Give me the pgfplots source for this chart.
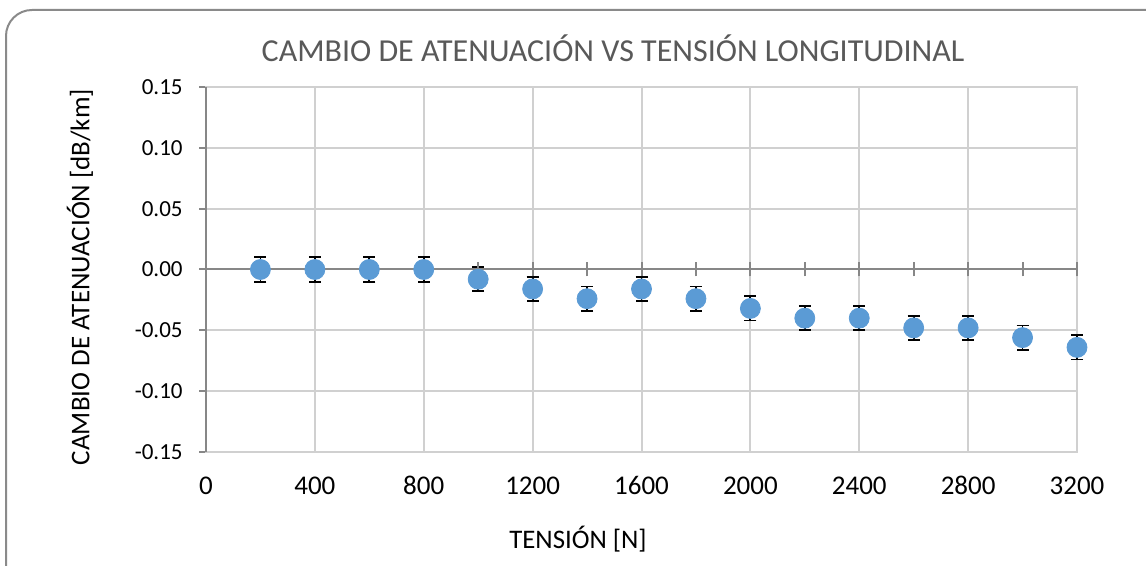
\documentclass[border=0pt]{standalone}
\usepackage{pgfplots}
\pgfplotsset{compat=1.18}
\usepackage{fontspec}
\setmainfont{Carlito}
\definecolor{ptblue}{HTML}{5B9BD5}
\definecolor{gridc}{HTML}{D0D0D0}
\definecolor{axc}{HTML}{878787}
\definecolor{titc}{HTML}{595959}
\definecolor{framec}{HTML}{8A8A8A}

\pgfplotstableread{
x y e
200 0 0.01
400 0 0.01
600 0 0.01
800 0 0.01
1000 -0.008 0.01
1200 -0.016 0.01
1400 -0.024 0.01
1600 -0.016 0.01
1800 -0.024 0.01
2000 -0.032 0.01
2200 -0.040 0.01
2400 -0.040 0.01
2600 -0.048 0.01
2800 -0.048 0.01
3000 -0.056 0.01
3200 -0.064 0.01
}\datatable

\begin{document}
\begin{tikzpicture}
\path[use as bounding box] (0,0) rectangle (573pt,283pt);
\begin{scope}
\clip (0,0) rectangle (573pt,283pt);
\draw[color=framec, line width=1pt, rounded corners=13pt] (3pt,-40pt) rectangle (610pt,278pt);
\end{scope}
\begin{axis}[
  at={(103pt,57pt)}, anchor=south west,
  scale only axis, width=435.5pt, height=182.5pt,
  xmin=0, xmax=3200, ymin=-0.15, ymax=0.15,
  xtick={0,400,800,1200,1600,2000,2400,2800,3200},
  ytick={-0.15,-0.10,-0.05,0,0.05,0.10,0.15},
  grid=major,
  major grid style={gridc, line width=1pt},
  axis line style={gridc, line width=1pt},
  x tick style={draw=none},
  ytick pos=left,
  y tick style={axc, line width=1pt},
  tick align=outside,
  major tick length=3.5pt,
  /pgf/number format/assume math mode=true,
  yticklabel style={/pgf/number format/.cd, fixed, fixed zerofill, precision=2, /tikz/.cd, anchor=east, inner sep=0pt, xshift=-8pt, font=\fontsize{11.5}{13}\selectfont},
  xticklabel style={anchor=base, inner sep=0pt, yshift=-18pt, font=\fontsize{13.5}{15}\selectfont, /pgf/number format/.cd, 1000 sep={}},
  clip=false,
]
\draw[axc, line width=1pt] (axis cs:0,-0.15) -- (axis cs:0,0.15);
\addplot[forget plot, draw=none, mark=none,
  error bars/.cd, y dir=both, y explicit,
  error bar style={draw=black, line width=0.9pt},
  error mark options={draw=black, line width=0.9pt, mark size=3pt, rotate=90}]
  table[x=x, y=y, y error=e] {\datatable};
\end{axis}
\begin{axis}[
  at={(103pt,57pt)}, anchor=south west,
  scale only axis, width=435.5pt, height=182.5pt,
  xmin=0, xmax=3200, ymin=-0.15, ymax=0.15,
  axis x line=middle, axis y line=none,
  xtick={200,400,...,3200}, xticklabels={},
  tick align=center, major tick length=7pt,
  axis line style={axc, line width=1pt, -},
  x tick style={axc, line width=1pt},
  clip=false,
]
\addplot[only marks, mark=*, mark size=5pt, mark options={draw=ptblue, fill=ptblue}]
  table[x=x, y=y] {\datatable};
\end{axis}
\node[titc, font=\fontsize{16}{19}\selectfont] at (306.5pt,259pt) {CAMBIO DE ATENUACIÓN VS TENSIÓN LONGITUDINAL};
\node[black, font=\fontsize{13.4}{15}\selectfont] at (289pt,13.5pt) {TENSIÓN [N]};
\node[black, rotate=90, font=\fontsize{13.5}{15}\selectfont] at (40pt,144.5pt) {CAMBIO DE ATENUACIÓN [dB/km]};
\end{tikzpicture}
\end{document}
